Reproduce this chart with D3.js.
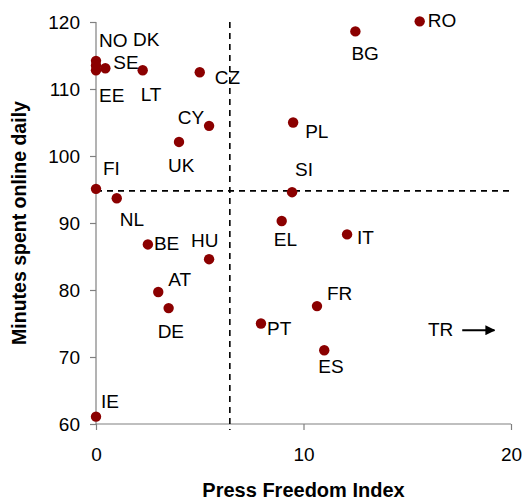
<!DOCTYPE html>
<html>
<head>
<meta charset="utf-8">
<script src="https://cdn.jsdelivr.net/npm/d3@7"></script>
<style>
  body { margin: 0; background: #fff; }
  svg text { font-family: "Liberation Sans", Arial, sans-serif; fill: #000; }
</style>
</head>
<body>
<div id="chart"></div>
<script>
// country codes, press freedom index (x), minutes spent online daily (y)
const countries = ['RO','BG','PL','SI','EL','IT','FR','PT','ES','CZ','CY','UK','FI','NL',
  'NO','DK','SE','EE','LT','BE','HU','AT','DE','IE'];
const pressFreedom = [15.6, 12.5, 9.5, 9.45, 8.95, 12.1, 10.65, 7.95, 11.0, 5.0, 5.45, 4.0, 0, 1.0,
  0, 0, 0.45, 0, 2.25, 2.5, 5.45, 3.0, 3.5, 0];
const minutesOnline = [120.1, 118.6, 105.0, 94.6, 90.3, 88.3, 77.6, 75.0, 71.0, 112.5, 104.5, 102.1, 95.1, 93.7,
  114.2, 113.5, 113.1, 112.8, 112.8, 86.8, 84.6, 79.7, 77.3, 61.1];
const xTicks = [0, 10, 20];
const yTicks = [60, 70, 80, 90, 100, 110, 120];
const meanPress = 6.45;
const meanMinutes = 94.8;

// label offsets from each dot (px) and anchor
const labelPos = {
  RO: [8, 6, 'start'], BG: [-4, 29, 'start'], PL: [12, 15, 'start'], SI: [3, -16, 'start'],
  EL: [-8, 25, 'start'], IT: [10, 10, 'start'], FR: [10, -6, 'start'], PT: [6, 11, 'start'],
  ES: [-6, 23, 'start'], CZ: [15, 12, 'start'], CY: [-5, -2, 'end'], UK: [-11, 30, 'start'],
  FI: [7, -14, 'start'], NL: [3, 28, 'start'], NO: [3, -14, 'start'], DK: [37, -20, 'start'],
  SE: [8, 1, 'start'], EE: [3, 32, 'start'], LT: [-2, 31, 'start'], BE: [6, 6, 'start'],
  HU: [-18, -12, 'start'], AT: [10, -6, 'start'], DE: [-11, 30, 'start'], IE: [5, -9, 'start']
};

const data = countries.map((c, i) => ({ c, x: pressFreedom[i], y: minutesOnline[i] }));

const W = 525, H = 501;
const svg = d3.select('#chart').append('svg').attr('width', W).attr('height', H);

const x = d3.scaleLinear().domain([0, 20]).range([96, 511]);
const y = d3.scaleLinear().domain([60, 120]).range([424, 22]);

// axes
const xAxis = svg.append('g')
  .attr('transform', `translate(0,${y(60)})`)
  .call(d3.axisBottom(x).tickValues(xTicks).tickSize(6).tickPadding(18).tickFormat(d3.format('d')));
const yAxis = svg.append('g')
  .attr('transform', `translate(${x(0)},0)`)
  .call(d3.axisLeft(y).tickValues(yTicks).tickSize(6).tickPadding(10).tickFormat(d3.format('d')));
[xAxis, yAxis].forEach(a => {
  a.select('.domain').attr('stroke', '#808080').attr('stroke-width', 1.2);
  a.selectAll('.tick line').attr('stroke', '#808080').attr('stroke-width', 1.2);
  a.selectAll('.tick text').style('font-size', '19px').attr('fill', '#000');
});
xAxis.select('.domain').attr('d', `M${x(0)},0H${x(20)}`);
yAxis.select('.domain').attr('d', `M0,${y(120)}V${y(60)}`);

// mean lines
svg.append('line')
  .attr('x1', x(meanPress)).attr('x2', x(meanPress))
  .attr('y1', y(120)).attr('y2', y(60) + 6)
  .attr('stroke', '#000').attr('stroke-width', 1.6).attr('stroke-dasharray', '6,5');
svg.append('line')
  .attr('x1', x(0)).attr('x2', x(20))
  .attr('y1', y(meanMinutes)).attr('y2', y(meanMinutes))
  .attr('stroke', '#000').attr('stroke-width', 1.6).attr('stroke-dasharray', '6,5');

// dots
svg.selectAll('circle.pt')
  .data(data)
  .enter().append('circle')
  .attr('class', 'pt')
  .attr('cx', d => x(d.x))
  .attr('cy', d => y(d.y))
  .attr('r', 5.2)
  .attr('fill', '#8b0000');

// labels
svg.selectAll('text.lbl')
  .data(data)
  .enter().append('text')
  .attr('class', 'lbl')
  .attr('x', d => x(d.x) + labelPos[d.c][0])
  .attr('y', d => y(d.y) + labelPos[d.c][1])
  .attr('text-anchor', d => labelPos[d.c][2])
  .style('font-size', '19px')
  .text(d => d.c);

// TR off the scale
const trY = 74;
svg.append('text')
  .attr('x', x(16)).attr('y', y(trY) + 6)
  .style('font-size', '19px')
  .text('TR');
svg.append('defs').append('marker')
  .attr('id', 'arr').attr('viewBox', '0 0 10 10').attr('refX', 9).attr('refY', 5)
  .attr('markerWidth', 5).attr('markerHeight', 5).attr('orient', 'auto')
  .append('path').attr('d', 'M0,0L10,5L0,10Z').attr('fill', '#000');
svg.append('line')
  .attr('x1', x(17.65)).attr('x2', x(19.2))
  .attr('y1', y(trY)).attr('y2', y(trY))
  .attr('stroke', '#000').attr('stroke-width', 2)
  .attr('marker-end', 'url(#arr)');

// axis titles
svg.append('text')
  .attr('x', (x(0) + x(20)) / 2).attr('y', 497)
  .attr('text-anchor', 'middle')
  .style('font-size', '20px').style('font-weight', 'bold')
  .text('Press Freedom Index');
svg.append('text')
  .attr('transform', `translate(26,${(y(60) + y(120)) / 2}) rotate(-90)`)
  .attr('text-anchor', 'middle')
  .style('font-size', '19.5px').style('font-weight', 'bold')
  .text('Minutes spent online daily');
</script>
</body>
</html>
